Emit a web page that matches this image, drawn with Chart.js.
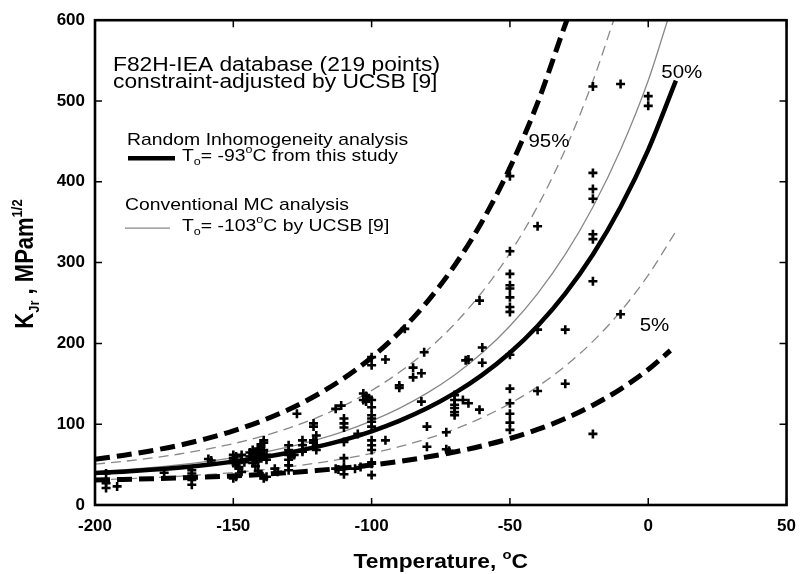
<!DOCTYPE html>
<html>
<head>
<meta charset="utf-8">
<script src="https://cdn.jsdelivr.net/npm/chart.js@4.4.0/dist/chart.umd.min.js"></script>
<style>
  html, body { margin: 0; padding: 0; background: #fff; }
</style>
</head>
<body>
<canvas id="myChart" width="807" height="574"></canvas>
<script>
// measured toughness data, F82H-IEA (temperature in C, KJr in MPa m^1/2)
const dataT = [
  -196, -196, -196, -192,
  -175,
  -165, -165, -165, -165, -165,
  -159, -158,
  -150, -150, -150, -150, -149, -149, -148, -147, -147, -146, -148, -149, -150, -147,
  -144, -144, -143, -143, -143, -143, -143, -142, -142, -141, -141, -141, -141, -140, -140, -140, -140,
  -139, -139, -139, -138, -138, -140, -139, -138, -141,
  -135, -134,
  -130, -130, -130, -130, -130, -130, -129, -128,
  -127, -125, -125, -125, -125,
  -121, -121, -120, -121, -120, -120, -120, -121,
  -113, -111, -110, -110, -110, -110, -110, -110, -110, -113, -112, -110,
  -105, -106, -104,
  -103, -102, -101, -103, -102, -100, -100, -100, -100, -100, -100, -100, -100, -100, -100, -100, -100, -100, -100,
  -95, -95,
  -90, -90, -88,
  -85, -85,
  -81, -82, -82, -80, -80,
  -73, -73, -72,
  -70, -70, -70, -70, -70, -70,
  -65, -66, -67, -65,
  -61, -60, -60, -61,
  -50, -50, -50, -50, -50, -50, -50, -50, -50, -50, -50, -50, -50, -50,
  -40, -40, -40,
  -30, -30,
  -20, -20, -20, -20, -20, -20, -20, -20,
  -10, -10,
  0, 0
];
const dataK = [
  39, 27, 21, 23,
  40,
  43, 39, 35, 31, 25,
  57, 55,
  62, 58, 55, 52, 60, 50, 47, 62, 56, 53, 45, 35, 33, 41,
  65, 60, 68, 64, 59, 56, 52, 62, 48, 70, 66, 58, 54, 75, 72, 64, 60,
  80, 77, 68, 62, 56, 37, 33, 35, 42,
  45, 41,
  74, 68, 62, 56, 49, 43, 60, 62,
  113, 80, 74, 68, 66,
  101, 97, 86, 80, 74, 72, 68, 77,
  119, 123, 107, 101, 96, 58, 47, 45, 38, 45, 44, 78,
  88, 45, 47,
  138, 135, 132, 130, 128, 130, 121, 111, 107, 103, 97, 183, 173, 80, 74, 68, 53, 51, 37,
  180, 80,
  148, 145, 218,
  170, 158,
  189, 163, 128, 97, 72,
  90, 69, 67,
  136, 130, 124, 120, 115, 111,
  180, 179, 130, 126,
  253, 195, 176, 118,
  407, 314, 286, 272, 268, 257, 245, 239, 186, 144, 126, 113, 102, 93,
  345, 217, 141,
  217, 150,
  518, 411, 391, 379, 335, 329, 277, 88,
  521, 236,
  506, 494
];

// Random Inhomogeneity analysis, To = -93 C (thick black)
const ri50T = [-200, -190, -180, -170, -160, -150, -140, -130, -120, -110, -100, -90, -80, -70, -60, -50, -40, -30, -20, -10, 0, 10];
const ri50K = [39.5, 41.3, 43.5, 46.2, 49.6, 53.7, 58.6, 64.6, 71.9, 80.6, 91.2, 104.1, 119.6, 138.4, 161.0, 188.4, 221.6, 261.7, 310.1, 368.8, 439.6, 525.3];
const ri95T = [-200, -190, -180, -170, -160, -150, -140, -130, -120, -110, -100, -90, -80, -70, -60, -50, -40, -30, -29.4];
const ri95K = [56.6, 61.3, 66.9, 73.6, 81.9, 91.8, 103.7, 118.2, 135.8, 157.0, 182.6, 213.6, 251.1, 296.4, 351.2, 417.5, 497.6, 594.6, 600];
const ri5T = [-200, -190, -180, -170, -160, -150, -140, -130, -120, -110, -100, -90, -80, -70, -60, -50, -40, -30, -20, -10, 0, 8];
const ri5K = [30.9, 31.6, 32.4, 33.4, 34.6, 36.0, 37.8, 40.0, 42.6, 45.8, 49.5, 54.0, 59.3, 65.6, 73.2, 82.3, 93.5, 107.0, 123.5, 143.5, 167.6, 191.2];

// Conventional MC analysis, To = -103 C (thin grey)
const mc50T = [-200, -190, -180, -170, -160, -150, -140, -130, -120, -110, -100, -90, -80, -70, -60, -50, -40, -30, -20, -10, 0, 7];
const mc50K = [41.1, 43.4, 46.2, 49.6, 53.7, 58.6, 64.6, 71.9, 80.6, 91.2, 104.1, 119.6, 138.4, 161.0, 188.4, 221.6, 261.7, 310.1, 368.8, 439.6, 525.3, 600];
const mc95T = [-200, -190, -180, -170, -160, -150, -140, -130, -120, -110, -100, -90, -80, -70, -60, -50, -40, -30, -20, -12.5];
const mc95K = [50.5, 53.9, 57.9, 62.8, 68.8, 75.9, 84.6, 95.1, 107.8, 123.1, 141.7, 164.2, 191.3, 224.1, 263.8, 311.7, 369.7, 439.9, 524.7, 600];
const mc5T = [-200, -190, -180, -170, -160, -150, -140, -130, -120, -110, -100, -90, -80, -70, -60, -50, -40, -30, -20, -10, 0, 10];
const mc5K = [31.0, 32.3, 33.7, 35.5, 37.6, 40.2, 43.4, 47.2, 51.8, 57.3, 64.0, 72.1, 82.0, 93.8, 108.2, 125.5, 146.5, 171.9, 202.5, 239.6, 284.5, 338.7];

const xTicks = [-200, -150, -100, -50, 0, 50];
const yTicks = [0, 100, 200, 300, 400, 500, 600];

const FONT = '"Liberation Sans", Arial, Helvetica, sans-serif';
Chart.defaults.font.family = FONT;
Chart.defaults.color = '#000';

function pts(xs, ys) {
  return xs.map((x, i) => ({ x: x, y: ys[i] }));
}

function curve(label, xs, ys, color, width, dash) {
  return {
    label: label,
    data: pts(xs, ys),
    showLine: true,
    borderColor: color,
    borderWidth: width,
    borderDash: dash,
    pointRadius: 0,
    cubicInterpolationMode: 'monotone',
    fill: false
  };
}

// draw text in pieces (subscripts / superscripts), horizontally stretched like the scan
function rich(ctx, x, y, parts, o) {
  o = o || {};
  ctx.save();
  ctx.translate(x, y);
  if (o.rot) ctx.rotate(o.rot);
  ctx.scale(o.sx || 1, o.sy || 1);
  ctx.textAlign = 'left';
  ctx.textBaseline = 'alphabetic';
  ctx.fillStyle = '#000';
  let w = 0;
  parts.forEach(p => {
    ctx.font = (p.b ? 'bold ' : '') + p.s + 'px ' + FONT;
    p.w = ctx.measureText(p.t).width;
    w += p.w;
  });
  let cx = o.center ? -w / 2 : 0;
  parts.forEach(p => {
    ctx.font = (p.b ? 'bold ' : '') + p.s + 'px ' + FONT;
    ctx.fillText(p.t, cx, p.dy || 0);
    cx += p.w;
  });
  ctx.restore();
}

const SX = 1.14;

const decor = {
  id: 'decor',
  afterDraw(chart) {
    const ctx = chart.ctx;
    const a = chart.chartArea;
    const xs = chart.scales.x, ys = chart.scales.y;

    // frame + inward ticks
    ctx.save();
    ctx.strokeStyle = '#000';
    ctx.lineWidth = 1.5;
    ctx.beginPath();
    xTicks.forEach(v => {
      const p = xs.getPixelForValue(v);
      ctx.moveTo(p, a.bottom); ctx.lineTo(p, a.bottom - 7);
      ctx.moveTo(p, a.top); ctx.lineTo(p, a.top + 7);
    });
    yTicks.forEach(v => {
      const p = ys.getPixelForValue(v);
      ctx.moveTo(a.left, p); ctx.lineTo(a.left + 7, p);
      ctx.moveTo(a.right, p); ctx.lineTo(a.right - 7, p);
    });
    ctx.stroke();
    ctx.lineWidth = 2.6;
    ctx.strokeRect(a.left, a.top, a.right - a.left, a.bottom - a.top);
    ctx.restore();

    const L = a.left, T = a.top;
    // header text
    rich(ctx, L + 18, T + 51, [{ t: 'F82H-IEA database (219 points)', s: 20 }], { sx: SX });
    rich(ctx, L + 18, T + 68, [{ t: 'constraint-adjusted by UCSB [9]', s: 20 }], { sx: SX });

    // legend
    rich(ctx, L + 32, T + 125, [{ t: 'Random Inhomogeneity analysis', s: 17 }], { sx: SX });
    ctx.save();
    ctx.strokeStyle = '#000';
    ctx.lineWidth = 4.5;
    ctx.beginPath(); ctx.moveTo(L + 33, T + 138); ctx.lineTo(L + 80, T + 138); ctx.stroke();
    ctx.strokeStyle = '#888';
    ctx.lineWidth = 1.3;
    ctx.beginPath(); ctx.moveTo(L + 30, T + 208); ctx.lineTo(L + 75, T + 208); ctx.stroke();
    ctx.restore();
    rich(ctx, L + 87, T + 141, [
      { t: 'T', s: 17 }, { t: 'o', s: 11, dy: 4 }, { t: '= -93', s: 17 },
      { t: 'o', s: 11, dy: -8 }, { t: 'C from this study', s: 17 }
    ], { sx: SX });
    rich(ctx, L + 30, T + 190, [{ t: 'Conventional MC analysis', s: 17 }], { sx: SX });
    rich(ctx, L + 87, T + 211, [
      { t: 'T', s: 17 }, { t: 'o', s: 11, dy: 4 }, { t: '= -103', s: 17 },
      { t: 'o', s: 11, dy: -8 }, { t: 'C by UCSB [9]', s: 17 }
    ], { sx: SX });

    // curve labels anchored in data space
    rich(ctx, xs.getPixelForValue(-43.3), ys.getPixelForValue(442.6), [{ t: '95%', s: 18 }], { sx: SX });
    rich(ctx, xs.getPixelForValue(4.7), ys.getPixelForValue(528.8), [{ t: '50%', s: 18 }], { sx: SX });
    rich(ctx, xs.getPixelForValue(-3.1), ys.getPixelForValue(215.4), [{ t: '5%', s: 18 }], { sx: SX });

    // axis titles
    rich(ctx, (a.left + a.right) / 2, 568, [
      { t: 'Temperature, ', s: 20, b: true }, { t: 'o', s: 13, b: true, dy: -9 }, { t: 'C', s: 20, b: true }
    ], { sx: SX, center: true });
    rich(ctx, 33, 264, [
      { t: 'K', s: 22, b: true }, { t: 'Jr', s: 13, b: true, dy: 5 }, { t: ' , MPam', s: 22, b: true },
      { t: '1/2', s: 13, b: true, dy: -10 }
    ], { rot: -Math.PI / 2, sy: SX, center: true });
  }
};

const config = {
  type: 'scatter',
  data: {
    datasets: [
      {
        label: 'F82H-IEA data',
        data: pts(dataT, dataK),
        pointStyle: 'cross',
        pointRadius: 4.5,
        borderWidth: 2.6,
        borderColor: '#000',
        backgroundColor: '#000'
      },
      curve('RI 50%', ri50T, ri50K, '#000', 4.5, []),
      curve('RI 95%', ri95T, ri95K, '#000', 5, [15, 7]),
      curve('RI 5%', ri5T, ri5K, '#000', 5, [15, 7]),
      curve('MC 50%', mc50T, mc50K, '#888', 1.3, []),
      curve('MC 95%', mc95T, mc95K, '#888', 1.3, [10, 6]),
      curve('MC 5%', mc5T, mc5K, '#888', 1.3, [10, 6])
    ]
  },
  options: {
    responsive: false,
    animation: false,
    layout: { padding: { top: 19, right: 18, left: 0, bottom: 0 } },
    plugins: { legend: { display: false }, tooltip: { enabled: false } },
    scales: {
      x: {
        type: 'linear', min: -200, max: 50,
        grid: { display: false, drawTicks: false },
        border: { display: false },
        ticks: { stepSize: 50, padding: 11, font: { size: 17, weight: 'bold' }, maxRotation: 0 },
        afterFit: s => { s.height = 69; }
      },
      y: {
        type: 'linear', min: 0, max: 600,
        grid: { display: false, drawTicks: false },
        border: { display: false },
        ticks: { stepSize: 100, padding: 10, font: { size: 17, weight: 'bold' } },
        afterFit: s => { s.width = 95; }
      }
    }
  },
  plugins: [decor]
};

var myChart = new Chart(document.getElementById('myChart'), config);
</script>
</body>
</html>
